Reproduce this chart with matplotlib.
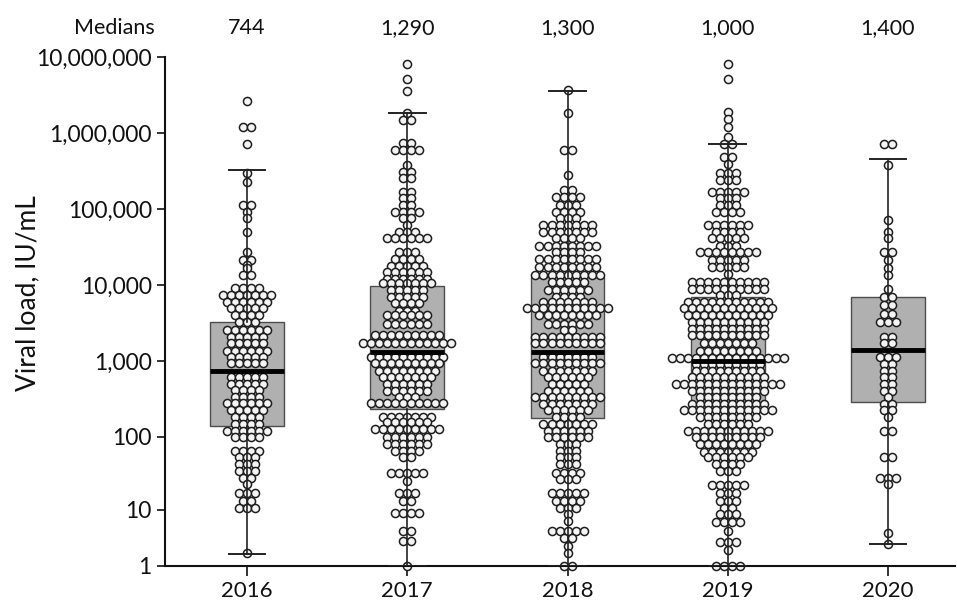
import numpy as np
import matplotlib
matplotlib.use('Agg')
import matplotlib.pyplot as plt

plt.rcParams['font.family'] = ['Lato', 'DejaVu Sans']

years = ['2016', '2017', '2018', '2019', '2020']
median_labels = ['744', '1,290', '1,300', '1,000', '1,400']

box_q1 = [140, 235, 179, 266, 291]
box_med = [744, 1290, 1300, 1000, 1400]
box_q3 = [3300, 9600, 12600, 6900, 6900]
whisker_low = [1.9, 1, 1, 1, 2.9]
whisker_high = [325000, 1840000, 3580000, 716000, 454000]

# beeswarm rows: value levels and number of points at each level
vals_2016 = [2650000, 1210000, 716000, 297000, 228000, 112000, 91600, 75000, 50000, 27000,
             21000, 18500, 16500, 13400, 9000, 7300, 5950, 4900, 4000, 3300, 2520, 2060,
             1700, 1370, 1120, 925, 610, 500, 410, 332, 275, 223, 182, 149, 120, 98, 65,
             53, 43, 35, 28, 23, 17.5, 13.4, 10.7, 2]
cnts_2016 = [1, 2, 1, 1, 1, 2, 1, 1, 1, 1,
             2, 1, 1, 2, 4, 7, 6, 5, 4, 3, 6, 5,
             5, 6, 5, 5, 5, 5, 4, 4, 6, 5, 4, 4, 6, 4, 4,
             3, 3, 3, 2, 1, 3, 2, 3, 1]

vals_2017 = [8100000, 5200000, 3600000, 1840000, 1480000, 738000, 597000, 379000, 309000,
             255000, 168000, 139000, 112000, 92000, 75000, 61000, 50000, 41000, 27000,
             22000, 18000, 15000, 12000, 10500, 8500, 6900, 5700, 4600, 4000, 3100, 2160,
             1710, 1120, 925, 747, 610, 500, 406, 332, 275, 182, 155, 127, 98, 80, 65, 53,
             33, 25, 17.5, 13.4, 9, 4.8, 3.3, 1]
cnts_2017 = [1, 1, 1, 1, 2, 2, 4, 1, 2,
             2, 2, 2, 2, 4, 2, 1, 3, 6, 3,
             4, 5, 6, 6, 7, 5, 5, 4, 3, 6, 6, 9,
             12, 10, 9, 8, 7, 6, 6, 3, 10, 7, 6, 9, 6, 6, 4, 2,
             5, 1, 3, 2, 4, 2, 2, 1]

vals_2018 = [3690000, 1840000, 597000, 279000, 177000, 144000, 112000, 92000, 75000, 61000,
             50000, 41000, 33000, 27000, 22000, 17400, 13400, 11000, 8500, 6900, 5950, 4900,
             4000, 3100, 2520, 2050, 1700, 1120, 925, 747, 610, 500, 406, 332, 271, 223, 182,
             147, 120, 98, 80, 65, 53, 43, 33, 27, 17.5, 13.4, 10.7, 8.6, 6.8, 4.8, 3.7, 2.7,
             2, 1]
cnts_2018 = [1, 1, 2, 1, 2, 4, 3, 4, 3, 7,
             7, 4, 8, 4, 8, 8, 9, 5, 6, 4, 7, 11,
             8, 6, 2, 9, 9, 7, 9, 7, 6, 5, 6, 9, 7, 6, 4,
             7, 6, 6, 3, 3, 3, 3, 4, 3, 5, 4, 3, 1, 1, 5, 2, 1,
             1, 2]

vals_2019 = [8100000, 5200000, 1910000, 1530000, 1210000, 892000, 716000, 487000, 390000,
             295000, 241000, 168000, 138000, 112000, 92000, 61000, 50000, 41000, 33000,
             27000, 21000, 17000, 14000, 11000, 8900, 7300, 5950, 4900, 4000, 3250, 2650,
             2160, 1710, 1370, 1100, 910, 747, 610, 500, 406, 332, 271, 223, 182, 147, 120,
             98, 80, 63, 53, 43, 35, 22.5, 17.5, 13.4, 10.7, 8.6, 6.6, 4.8, 3.1, 2.2, 1]
cnts_2019 = [1, 1, 1, 1, 1, 1, 2, 2, 1,
             3, 3, 5, 3, 3, 4, 6, 4, 5, 3,
             8, 5, 5, 1, 10, 10, 3, 11, 12, 11, 10, 10,
             10, 7, 8, 15, 9, 9, 10, 14, 10, 8, 10, 12, 8, 6, 11,
             9, 8, 7, 6, 4, 3, 5, 3, 3, 2, 3, 4, 1, 3, 1, 4]

vals_2020 = [716000, 379000, 71000, 50000, 41000, 27000, 21000, 16500, 13400, 8900, 6900,
             5500, 4100, 3250, 2050, 1700, 1120, 910, 747, 610, 500, 406, 332, 271, 223,
             182, 120, 53, 28, 23, 4.5, 2.9]
cnts_2020 = [2, 1, 1, 1, 1, 2, 1, 1, 1, 1, 2,
             2, 2, 3, 2, 2, 3, 2, 2, 2, 2, 2, 1, 2, 2,
             1, 2, 2, 3, 1, 1, 1]

all_vals = [vals_2016, vals_2017, vals_2018, vals_2019, vals_2020]
all_cnts = [cnts_2016, cnts_2017, cnts_2018, cnts_2019, cnts_2020]


def fwd(y):
    return np.log10(np.maximum(np.asarray(y, dtype=float), 0) + 1)


def inv(t):
    return 10 ** np.asarray(t, dtype=float) - 1


fig = plt.figure(figsize=(9.57, 6.03), dpi=100)
ax = fig.add_axes([165 / 957, 1 - 566 / 603, (955 - 165) / 957, (566 - 57) / 603])
ax.set_yscale('function', functions=(fwd, inv))
ax.set_ylim(1, 1e7)
ax.set_xlim(-0.512, 4.418)

positions = np.arange(len(years))

stats = []
for i in range(len(years)):
    stats.append(dict(med=box_med[i], q1=box_q1[i], q3=box_q3[i],
                      whislo=whisker_low[i], whishi=whisker_high[i], fliers=[]))

res = ax.bxp(stats, positions=positions, widths=0.46, capwidths=0.23,
             showfliers=False, patch_artist=True,
             boxprops=dict(facecolor='#b0b0b0', edgecolor='#4d4d4d', linewidth=1.0),
             medianprops=dict(color='black', linewidth=3.5),
             whiskerprops=dict(color='#222222', linewidth=1.2),
             capprops=dict(color='#222222', linewidth=1.4))
for b in res['boxes']:
    b.set_zorder(1)
for k in ('medians', 'whiskers', 'caps'):
    for a in res[k]:
        a.set_zorder(3)

dx = 0.05
for i, (vals, cnts) in enumerate(zip(all_vals, all_cnts)):
    xs, ys = [], []
    for v, n in zip(vals, cnts):
        offs = (np.arange(n) - (n - 1) / 2) * dx
        xs.extend(positions[i] + offs)
        ys.extend([v] * n)
    ax.scatter(xs, ys, s=34, facecolor='#f4f4f4', edgecolor='#1e1e1e',
               linewidth=1.1, zorder=2, clip_on=False)

yt = [1, 10, 100, 1000, 10000, 100000, 1000000, 10000000]
ax.set_yticks(yt)
ax.set_yticklabels([f'{v:,}' for v in yt])
ax.yaxis.set_minor_locator(matplotlib.ticker.NullLocator())
ax.set_xticks(positions)
ax.set_xticklabels(years)

ax.tick_params(axis='y', length=6, width=1.2, pad=3.5, labelsize=16.5, colors='#111111')
ax.tick_params(axis='x', length=7, width=1.2, pad=4, labelsize=16, colors='#111111')
for s in ('top', 'right'):
    ax.spines[s].set_visible(False)
for s in ('left', 'bottom'):
    ax.spines[s].set_linewidth(1.5)
    ax.spines[s].set_color('#111111')

fig.text(155 / 957, 1 - 28 / 603, 'Medians', ha='right', va='center', fontsize=15.5, color='#111111')
for i, lab in enumerate(median_labels):
    ax.text(positions[i], 1.057, lab, transform=ax.get_xaxis_transform(),
            ha='center', va='center', fontsize=15.5, color='#111111')

fig.text(28 / 957, 1 - 293 / 603, 'Viral load, IU/mL', rotation=90, ha='center', va='center',
         fontsize=19, color='#111111')

fig.savefig('out.png', dpi=100, facecolor='white')
